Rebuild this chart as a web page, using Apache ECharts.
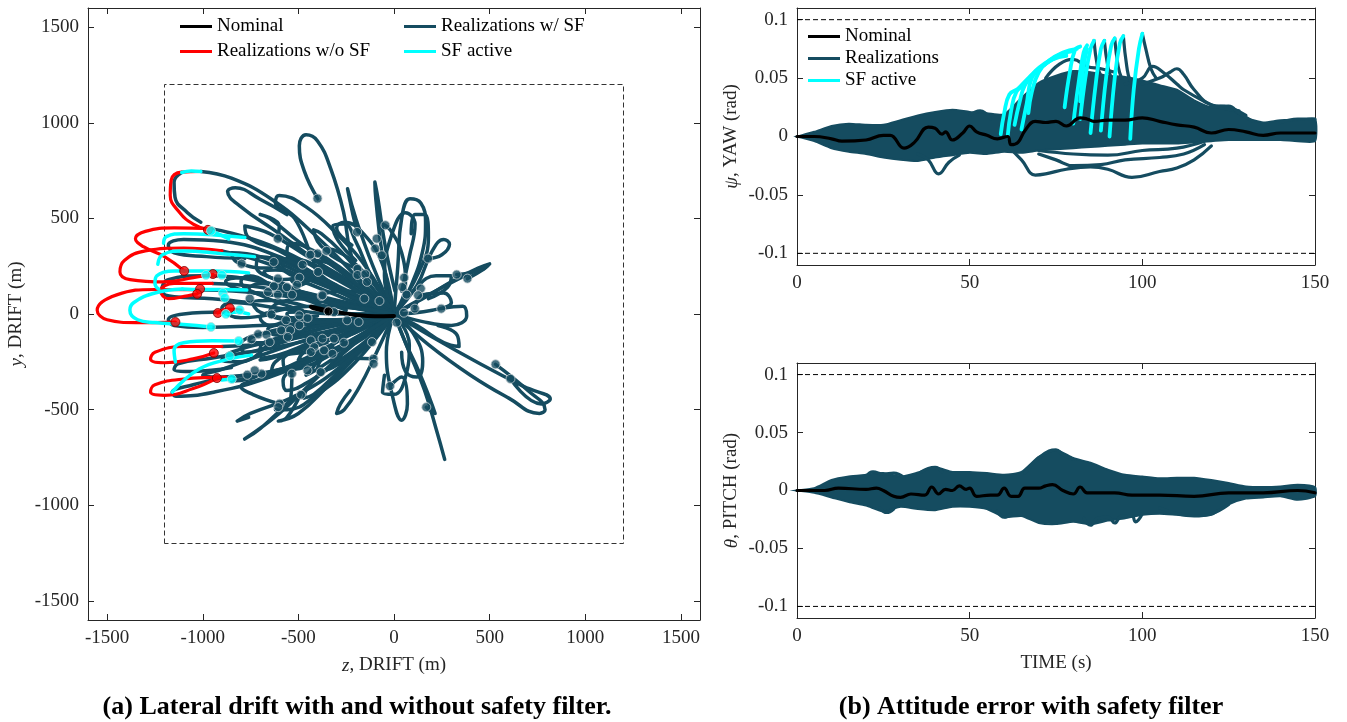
<!DOCTYPE html>
<html lang="en">
<head>
<meta charset="UTF-8">
<title>Lateral drift and attitude error</title>
<script src="https://cdn.jsdelivr.net/npm/echarts@6/dist/echarts.min.js"></script>
<style>
  html, body { margin: 0; background: #fff; }
  #chart { width: 1347px; height: 722px; }
</style>
</head>
<body>
<div id="chart"></div>
<script>
// ---- (a) lateral drift: trajectories [z, y] in metres ----
var nominalPath = [[0,-10],[-100,-12],[-200,-5],[-300,10],[-400,30],[-435,38],[-420,30],[-343,14]];
var nominalEnd = [[-343,14]];

// realizations with safety filter, central cluster
var centerPaths = [
  [[0,0],[-150,120],[-228,325],[-264,534],[-331,760],[-400,905],[-460,937],[-495,880],[-470,750],[-398,602]],
  [[0,0],[-60,300],[-95,600],[-100,690],[-85,610],[-45,350],[5,120]],
  [[0,0],[-110,250],[-200,500],[-243,655],[-232,600],[-205,480],[-186,429]],
  [[0,0],[20,250],[40,500],[83,602],[140,580],[165,480],[150,330],[90,150],[30,40]],
  [[0,0],[-50,200],[-10,420],[60,530],[110,470],[80,300],[40,120]],
  [[0,0],[120,150],[200,330],[260,390],[290,365],[250,310],[178,290]],
  [[0,0],[150,80],[320,180],[440,240],[500,262],[470,235],[384,185]],
  [[0,0],[180,100],[350,190],[490,255],[450,228],[328,206]],
  [[0,0],[150,-40],[300,-60],[380,-10],[360,40],[247,28]],
  [[0,0],[200,-120],[450,-260],[680,-380],[817,-445],[770,-470],[609,-339]],
  [[0,0],[180,-160],[400,-320],[600,-440],[760,-520],[790,-500],[700,-400],[531,-263]],
  [[0,0],[80,-200],[160,-400],[220,-600],[265,-760]],
  [[0,0],[60,-150],[130,-300],[190,-450],[215,-520],[190,-505],[169,-487]],
  [[0,0],[-40,-200],[-10,-420],[40,-555],[70,-470],[40,-330],[-21,-377]],
  [[0,0],[-200,-150],[-400,-330],[-600,-520],[-781,-654],[-700,-600],[-520,-430]],
  [[0,0],[-180,-200],[-350,-380],[-500,-520],[-605,-560],[-560,-540],[-490,-422]],
  [[0,0],[-250,-120],[-500,-250],[-700,-340],[-800,-380],[-740,-420],[-602,-469]],
  [[0,0],[-200,150],[-450,300],[-650,420],[-780,460],[-760,400],[-600,330],[-478,258]],
  [[0,0],[-250,100],[-500,220],[-700,300],[-850,320],[-820,270],[-650,240],[-629,272]],
  [[0,0],[-300,50],[-600,140],[-800,190],[-880,170],[-780,120],[-607,101]],
  [[0,0],[-250,200],[-500,380],[-650,500],[-700,520],[-600,460],[-607,394]],
  [[0,0],[-150,250],[-300,420],[-460,560],[-600,620],[-620,580],[-520,500],[-438,310]],
  [[0,0],[-300,0],[-600,30],[-850,60],[-900,30],[-800,-20],[-641,-2]],
  [[0,0],[-300,-60],[-600,-130],[-850,-200],[-900,-240],[-800,-250],[-650,-147]],
  [[0,0],[-250,-150],[-500,-260],[-750,-330],[-850,-350],[-760,-340],[-693,-312]],
  [[0,0],[-200,-250],[-400,-420],[-560,-500],[-620,-500],[-540,-440],[-534,-312]],
  [[0,0],[-350,-100],[-650,-200],[-900,-290],[-1000,-320],[-900,-330],[-767,-318]],
  [[0,0],[-100,80],[-250,120],[-380,100],[-400,60],[-300,40],[-155,80]],
  [[0,0],[-120,-60],[-260,-120],[-380,-140],[-420,-110],[-340,-100],[-262,-150]],
  [[0,0],[60,150],[40,320],[-20,440],[-60,470],[-45,464]],
  [[0,0],[100,-100],[150,-250],[120,-330],[60,-300],[40,-200]],
  [[0,0],[200,20],[300,60],[260,110],[150,100],[109,28]],
  [[0,0],[-200,-40],[-400,-60],[-520,-40],[-560,0],[-500,10],[-452,-21]],
  [[0,0],[-200,30],[-400,40],[-600,20],[-700,-20],[-650,-60],[-564,-33]],
  [[0,0],[-150,180],[-280,330],[-380,420],[-420,440],[-400,380],[-353,330]],
  [[0,0],[-180,-180],[-320,-330],[-420,-420],[-470,-440],[-460,-400],[-383,-304]],
  [[0,0],[-100,-220],[-180,-380],[-260,-500],[-300,-520],[-280,-470],[-230,-400]],
  [[0,0],[130,220],[180,400],[160,520],[110,520],[90,420]],
  [[0,0],[-250,60],[-500,120],[-700,160],[-760,130],[-660,100],[-533,101]],
  [[0,0],[-250,-30],[-500,-80],[-720,-110],[-760,-140],[-680,-150],[-555,-120]],
  [[0,0],[-200,90],[-450,180],[-620,230],[-680,220],[-600,180],[-495,190]],
  [[0,0],[-220,-90],[-450,-170],[-640,-230],[-700,-240],[-620,-220],[-435,-199]],
  [[0,0],[-150,40],[-330,110],[-480,170],[-540,180],[-500,150],[-397,220]],
  [[0,0],[-150,-100],[-300,-220],[-420,-300],[-460,-320],[-430,-290],[-366,-190]],
  [[0,0],[-100,150],[-200,260],[-300,330],[-350,340],[-320,300],[-191,236]],
  [[0,0],[-80,-100],[-180,-200],[-280,-260],[-330,-270],[-300,-230],[-107,-234]],
  [[0,0],[-150,60],[-350,160],[-550,260],[-700,300],[-720,250],[-600,170],[-400,80],[-250,20]],
  [[0,0],[-180,-30],[-380,-120],[-560,-200],[-690,-230],[-700,-180],[-560,-110],[-380,-60]],
  [[0,0],[-100,100],[-250,220],[-420,330],[-540,370],[-560,320],[-450,230],[-300,140]],
  [[0,0],[-120,-120],[-280,-240],[-440,-350],[-560,-400],[-580,-350],[-470,-260],[-320,-170]],
  [[0,0],[-200,0],[-420,60],[-620,140],[-760,200],[-800,170],[-680,90],[-480,20]],
  [[0,0],[-200,-20],[-420,-90],[-620,-160],[-780,-200],[-800,-160],[-680,-100],[-480,-60]],
  [[0,0],[-80,60],[-200,160],[-330,260],[-420,280],[-400,220],[-300,150]],
  [[0,0],[-60,-80],[-180,-180],[-320,-280],[-400,-300],[-380,-240],[-260,-170]],
  [[0,0],[-250,40],[-450,80],[-600,60],[-650,10],[-560,-20],[-400,-10]],
  [[0,0],[-120,200],[-200,380],[-260,470],[-320,460],[-290,380],[-200,280]],
  [[0,0],[80,-160],[60,-330],[0,-420],[-60,-410],[-50,-320]],
  [[0,0],[-220,140],[-420,260],[-560,290],[-580,240],[-460,180]],
  [[0,0],[-220,-140],[-420,-260],[-560,-290],[-580,-240],[-460,-180]],
  [[0,0],[100,120],[220,200],[300,200],[280,140],[180,80]],
  [[0,0],[120,-60],[260,-150],[340,-170],[330,-110],[230,-60]],
  [[0,0],[-60,260],[-160,420],[-260,480],[-300,450],[-220,360]],
  [[0,0],[-300,-30],[-520,-30],[-700,10],[-740,60],[-640,70],[-460,40]],
  [[0,0],[-160,-60],[-350,-180],[-520,-280],[-640,-300],[-620,-250],[-500,-180]],
  [[0,0],[-100,20],[-250,100],[-420,200],[-560,280],[-640,300],[-620,260],[-500,200]],
  [[0,0],[-120,-40],[-280,-40],[-460,-80],[-620,-110],[-660,-80],[-560,-50]],
  [[0,0],[-60,-40],[-150,-120],[-260,-180],[-420,-230],[-500,-240],[-470,-200],[-350,-150]]
];

// realizations with safety filter that reach the boundary
var edgePaths = [
  [[0,0],[-180,180],[-420,420],[-640,600],[-850,710],[-1010,745]],
  [[-1110,740],[-1150,690],[-1145,610],[-1080,530],[-1010,480]],
  [[0,0],[-300,200],[-600,420],[-800,560],[-870,640],[-830,660],[-700,600],[-560,520]],
  [[0,0],[-300,150],[-600,300],[-900,380],[-1100,390],[-1180,360],[-1150,320],[-980,300],[-780,290]],
  [[0,0],[-350,80],[-700,170],[-1000,200],[-1180,180],[-1215,120],[-1150,90],[-950,80],[-760,60]],
  [[0,0],[-350,-40],[-700,-60],[-1000,-70],[-1150,-60],[-1180,-30],[-1100,0],[-900,10]],
  [[0,0],[-300,-100],[-650,-180],[-950,-230],[-1130,-260],[-1150,-290],[-1050,-300],[-850,-280]],
  [[0,0],[-300,-180],[-650,-330],[-950,-410],[-1140,-430],[-1160,-410],[-1050,-370],[-880,-330]],
  [[0,0],[-250,-250],[-500,-420],[-750,-520],[-820,-560],[-760,-540]],
  [[0,0],[-300,180],[-650,360],[-950,445]],
  [[0,0],[-300,120],[-650,260],[-900,330]],
  [[0,0],[-350,70],[-700,140],[-950,160]],
  [[0,0],[-350,60],[-700,110],[-1000,126]],
  [[0,0],[-300,-80],[-650,-150],[-900,-170]],
  [[0,0],[-300,-180],[-600,-290],[-880,-330]]
];

// realizations without safety filter
var redPaths = [
  [[-1010,745],[-1110,742],[-1165,700],[-1170,620],[-1120,530],[-1050,470],[-973,440]],
  [[-950,445],[-1150,450],[-1300,432],[-1352,393],[-1310,352],[-1200,300],[-1097,225]],
  [[-900,330],[-1100,345],[-1300,330],[-1410,280],[-1433,220],[-1380,180],[-1200,168],[-1050,190],[-947,209]],
  [[-950,160],[-1150,160],[-1220,120],[-1180,80],[-1080,95],[-1029,105]],
  [[-1000,126],[-1250,128],[-1450,100],[-1552,20],[-1500,-30],[-1350,-45],[-1143,-42]],
  [[-900,-170],[-1100,-170],[-1250,-200],[-1273,-235],[-1200,-255],[-1050,-235],[-942,-204]],
  [[-880,-330],[-1100,-340],[-1250,-370],[-1273,-408],[-1200,-425],[-1050,-390],[-926,-335]],
  [[-800,20],[-870,25],[-921,5]]
];

// safety filter active segments
var cyanPaths = [
  [[-1010,745],[-1060,748],[-1110,740]],
  [[-864,393],[-910,415],[-957,435]],
  [[-780,400],[-950,415],[-1100,420],[-1190,405],[-1205,370]],
  [[-730,300],[-900,315],[-1100,330],[-1210,310],[-1235,260]],
  [[-760,215],[-950,225],[-1150,225],[-1240,200],[-1250,160],[-1230,130]],
  [[-770,125],[-900,128],[-1000,128],[-1107,131]],
  [[-1107,131],[-1250,110],[-1360,60],[-1381,20],[-1340,-30],[-1250,-45],[-1100,-55],[-957,-68]],
  [[-760,0],[-820,10],[-879,0]],
  [[-812,-141],[-950,-140],[-1100,-150],[-1150,-190],[-1143,-251]],
  [[-745,-215],[-864,-236],[-1019,-288],[-1159,-408]],
  [[-848,-340],[-900,-345]]
];

var endPoints = [[-607,394],[-629,272],[-797,263],[-478,258],[-435,311],[-400,316],[-353,330],[-397,220],[-607,185],[-495,190],[-507,153],[-628,145],[-560,140],[-533,101],[-607,101],[-659,115],[-754,80],[-378,94],[-155,80],[-76,68],[-314,10],[-495,-7],[-452,-21],[-564,-33],[-641,-2],[-495,-59],[-590,-85],[-543,-85],[-710,-106],[-667,-108],[-745,-132],[-650,-147],[-555,-120],[-435,-138],[-417,-173],[-374,-129],[-314,-129],[-262,-150],[-115,-147],[-366,-190],[-322,-208],[-435,-199],[-452,-295],[-383,-304],[-534,-312],[-693,-312],[-728,-295],[-767,-318],[-486,-422],[-598,-469],[-245,-33],[-185,-42],[-107,-234],[-107,-260],[14,-45],[-193,429],[-90,394],[-98,342],[-64,307],[-45,464],[-400,604],[178,290],[53,190],[140,133],[126,98],[66,101],[43,141],[109,28],[52,7],[247,28],[328,206],[384,185],[531,-263],[609,-339],[169,-487],[-21,-377],[-191,236],[-191,204],[-150,209],[-141,168],[-374,98],[-438,310],[-605,-487]];
var redEnds = [[-973,440],[-1097,225],[-947,209],[-1014,131],[-1029,105],[-921,5],[-859,31],[-1143,-42],[-942,-204],[-926,-335]];
var cyanEnds = [[-957,435],[-983,204],[-900,204],[-895,110],[-885,84],[-879,0],[-807,21],[-957,-68],[-812,-141],[-859,-220],[-848,-340]];

var driftTicks = [-1500,-1000,-500,0,500,1000,1500];
var driftLimit = 1200;

// ---- (b) attitude error: time (s) vs rad ----
var timeTicks = [0,50,100,150];
var attTicks = [-0.1,-0.05,0,0.05,0.1];
var attLimit = 0.1;

var bandT   = [0,5,10,15,20,25,30,35,40,45,50,55,60,65,70,75,80,85,90,95,100,105,110,115,120,125,130,135,140,145,150];
var yawHi   = [0,0.004,0.009,0.011,0.010,0.010,0.014,0.018,0.021,0.023,0.021,0.020,0.019,0.033,0.046,0.052,0.056,0.055,0.052,0.051,0.048,0.044,0.040,0.031,0.025,0.024,0.016,0.012,0.014,0.014,0.015];
var yawLo   = [0,-0.004,-0.010,-0.013,-0.015,-0.018,-0.020,-0.021,-0.018,-0.016,-0.014,-0.015,-0.013,-0.014,-0.012,-0.011,-0.010,-0.009,-0.008,-0.007,-0.006,-0.006,-0.006,-0.005,-0.004,-0.003,-0.003,-0.003,-0.003,-0.004,-0.004];
var pitchHi = [0,0.002,0.009,0.012,0.0135,0.015,0.012,0.0155,0.020,0.016,0.016,0.015,0.0135,0.016,0.029,0.035,0.028,0.024,0.018,0.0135,0.012,0.0105,0.011,0.011,0.009,0.0065,0.0035,0.003,0.0035,0.005,0.003];
var pitchLo = [0,-0.002,-0.006,-0.010,-0.013,-0.018,-0.014,-0.016,-0.017,-0.014,-0.014,-0.016,-0.023,-0.022,-0.028,-0.029,-0.027,-0.029,-0.026,-0.024,-0.021,-0.020,-0.021,-0.022,-0.021,-0.012,-0.007,-0.006,-0.005,-0.008,-0.005];

var yawNominal = [[0,0],[5,0],[10,-0.002],[13,-0.004],[20,-0.003],[25,0.001],[27,0.001],[31,-0.010],[34,-0.005],[38,0.008],[40,0.007],[42,0.002],[43,0.004],[45,-0.003],[48,0.003],[50,0.009],[52,0.004],[55,0.001],[58,-0.002],[61,0],[62,-0.007],[64,-0.005],[66,0.005],[69,0.013],[72,0.012],[75,0.013],[78,0.009],[82,0.016],[84,0.015],[86,0.013],[90,0.014],[95,0.014],[100,0.016],[105,0.013],[110,0.010],[115,0.008],[120,0.003],[125,0.006],[130,0.004],[135,0.001],[140,0.003],[145,0.003],[150,0.003]];
var pitchNominal = [[0,0],[8,0],[12,0.002],[20,0.001],[23,0.002],[25,0],[28,-0.005],[30,-0.006],[33,-0.003],[37,-0.004],[39,0.003],[41,-0.003],[43,0.001],[45,0],[47,0.004],[49,0.001],[50,0.002],[52,-0.005],[56,-0.004],[58,-0.004],[60,0.002],[62,-0.005],[64,-0.005],[66,0.002],[70,0.002],[72,0.004],[74,0.005],[77,0],[80,-0.003],[82,0.003],[84,-0.002],[88,-0.002],[92,-0.002],[97,-0.004],[105,-0.004],[115,-0.005],[125,-0.002],[135,-0.002],[145,0],[150,-0.002]];

var yawLines = [
  [[95,0.045],[100,0.05],[103,0.06],[106,0.055],[110,0.045],[112,0.04],[118,0.03],[122,0.025],[128,0.022]],
  [[100,0.045],[105,0.05],[108,0.055],[110,0.058],[112,0.053],[115,0.04],[120,0.027],[125,0.025],[130,0.018]],
  [[60,-0.005],[65,-0.02],[69,-0.033],[72,-0.032],[78,-0.028],[85,-0.026],[90,-0.028],[97,-0.035],[105,-0.03],[110,-0.027],[115,-0.02],[120,-0.008]],
  [[70,-0.015],[75,-0.02],[80,-0.025],[88,-0.024],[95,-0.02],[105,-0.018],[112,-0.015],[118,-0.007]],
  [[35,-0.015],[38,-0.02],[41,-0.032],[44,-0.022],[47,-0.016]],
  [[70,-0.012],[80,-0.015],[90,-0.016],[100,-0.012],[110,-0.01],[118,-0.004]],
  [[50,0.018],[53,0.022],[56,0.015]],
  [[72,0.05],[76,0.062],[80,0.066],[84,0.06],[88,0.058],[92,0.055]],
  [[94.5,0.086],[95.5,0.06],[96.5,0.048],[98,0.045]],
  [[100,0.088],[101,0.075],[102.5,0.058],[104,0.05]],
  [[92,0.084],[93,0.06],[94,0.05]],
  [[89,0.082],[90,0.06],[91,0.05]],
  [[86,0.082],[87,0.06],[88,0.052]],
  [[120,0.025],[125,0.026],[128,0.02],[132,0.013]],
  [[140,0.012],[145,0.015],[150,0.015]]
];
var yawActive = [
  [[59,0.002],[60,0.02],[61.5,0.036],[64,0.041],[67,0.05],[70,0.058],[74,0.066],[78,0.071]],
  [[61,0],[62,0.022],[63.5,0.038],[66,0.045],[69,0.055],[72,0.062],[76,0.07],[80,0.073]],
  [[63,0.01],[64.5,0.03],[66,0.044],[69,0.056],[72,0.063],[75,0.068]],
  [[65,0.006],[66.5,0.028],[68,0.05],[71,0.06],[74,0.066],[78,0.069]],
  [[67,0.02],[68,0.038],[70,0.055],[73,0.065],[77,0.072],[81,0.075]],
  [[77.5,0.025],[79,0.055],[80.5,0.074],[82,0.077]],
  [[80,0.011],[81.5,0.045],[83,0.072],[84,0.078]],
  [[82,0.015],[83.5,0.05],[85,0.075],[86,0.082]],
  [[85,0.003],[86.5,0.045],[88,0.075],[89,0.082]],
  [[88,0.005],[89.5,0.05],[91,0.078],[92,0.084]],
  [[90.5,0],[92,0.05],[93.5,0.08],[94.5,0.086]],
  [[96.5,-0.002],[97.5,0.04],[99,0.075],[100,0.088]],
  [[82,0.03],[83,0.06],[84,0.075]]
];
var pitchLines = [
  [[83,-0.024],[85,-0.03],[87,-0.024],[90,-0.023],[92,-0.028],[94,-0.022],[97,-0.022],[98,-0.027],[100,-0.02]],
  [[66,0.015],[70,0.028],[73,0.034],[75,0.035],[77,0.031],[80,0.027]],
  [[105,-0.015],[110,-0.02],[115,-0.022],[120,-0.02],[125,-0.012]],
  [[20,0.012],[22,0.016],[25,0.014],[28,0.015],[31,0.011]],
  [[36,0.016],[38,0.019],[40,0.02],[42,0.016]],
  [[24,-0.015],[26,-0.019],[28,-0.016]],
  [[58,-0.018],[60,-0.023],[62,-0.02]]
];

var TEAL = '#154c60';
var RED = '#ff0000';
var CYAN = '#00ffff';
var FONT = 'Liberation Serif';
var AXIS = '#262626';

function lines(paths, name, color, width, xi, yi, z) {
  return paths.map(function (p) {
    return {
      type: 'line', name: name, data: p, xAxisIndex: xi, yAxisIndex: yi,
      smooth: 0.45, symbol: 'none', silent: true, z: z,
      lineStyle: { color: color, width: width, cap: 'round', join: 'round' },
      itemStyle: { color: color }
    };
  });
}
function dots(pts, fill, border, size, z) {
  return {
    type: 'scatter', data: pts, xAxisIndex: 0, yAxisIndex: 0, symbolSize: size, silent: true, z: z,
    itemStyle: { color: fill, borderColor: border, borderWidth: 1 }
  };
}
function band(T, hi, lo, xi, yi) {
  return {
    type: 'custom', xAxisIndex: xi, yAxisIndex: yi, data: [[0, 0]], silent: true, z: 2,
    renderItem: function (params, api) {
      var pts = [];
      for (var i = 0; i < T.length; i++) pts.push(api.coord([T[i], hi[i]]));
      for (var j = T.length - 1; j >= 0; j--) pts.push(api.coord([T[j], lo[j]]));
      return { type: 'polygon', shape: { points: pts, smooth: 0.2 }, style: { fill: TEAL, stroke: TEAL, lineWidth: 2 } };
    }
  };
}
function hline(v, xi, yi) {
  return {
    type: 'line', data: [[0, v], [150, v]], xAxisIndex: xi, yAxisIndex: yi, symbol: 'none', silent: true, z: 1,
    lineStyle: { color: '#000', width: 1, type: [5, 3] }
  };
}
function axis(grid, pos, min, max, ticks, labels, name, gap) {
  return {
    type: 'value', gridIndex: grid, position: pos, min: min, max: max,
    splitLine: { show: false },
    axisLine: { show: true, onZero: false, lineStyle: { color: AXIS, width: 1 } },
    axisTick: { inside: true, length: 6, customValues: ticks, lineStyle: { color: AXIS } },
    axisLabel: { show: labels, customValues: ticks, margin: 9, color: AXIS, fontFamily: FONT, fontSize: 19,
      formatter: function (v) { return String(v); } },
    name: name || '', nameLocation: 'middle', nameGap: gap || 0,
    nameTextStyle: { color: AXIS, fontFamily: FONT, fontSize: 19, rich: { i: { fontStyle: 'italic', fontFamily: FONT, fontSize: 19, color: AXIS } } }
  };
}
function legend(names, left, top, orient) {
  return {
    data: names.map(function (n) { return { name: n, icon: 'rect' }; }),
    left: left, top: top, orient: orient || 'horizontal', itemWidth: 32, itemHeight: 3, itemGap: 3,
    selectedMode: false, padding: 0,
    textStyle: { fontFamily: FONT, fontSize: 19, color: '#000', padding: [0, 0, 0, 0] }
  };
}

var series = [];
series.push({
  type: 'line', data: [[-driftLimit,-driftLimit],[-driftLimit,driftLimit],[driftLimit,driftLimit],[driftLimit,-driftLimit],[-driftLimit,-driftLimit]],
  xAxisIndex: 0, yAxisIndex: 0, symbol: 'none', silent: true, z: 1,
  lineStyle: { color: '#333', width: 1, type: [5, 3] }
});
series = series.concat(lines(centerPaths, 'Realizations w/ SF', TEAL, 3.5, 0, 0, 3));
series = series.concat(lines(edgePaths, 'Realizations w/ SF', TEAL, 3.5, 0, 0, 3));
series = series.concat(lines(redPaths, 'Realizations w/o SF', RED, 3.2, 0, 0, 4));
series = series.concat(lines(cyanPaths, 'SF active', CYAN, 3.5, 0, 0, 5));
series = series.concat(lines([nominalPath], 'Nominal', '#000', 4, 0, 0, 6));
series.push(dots(endPoints, TEAL, '#c3cdd1', 9, 7));
series.push(dots(redEnds, RED, '#7a0000', 9, 7));
series.push(dots(cyanEnds, CYAN, '#b7dede', 9, 7));
series.push(dots(nominalEnd, '#000', '#c3cdd1', 9, 8));

series.push(hline(attLimit, 2, 2), hline(-attLimit, 2, 2));
series.push(band(bandT, yawHi, yawLo, 2, 2));
series = series.concat(lines(yawLines, 'Realizations', TEAL, 3.2, 2, 2, 3));
series = series.concat(lines(yawActive, 'SF active', CYAN, 3.8, 2, 2, 5));
series = series.concat(lines([yawNominal], 'Nominal', '#000', 3.2, 2, 2, 6));

series.push(hline(attLimit, 4, 4), hline(-attLimit, 4, 4));
series.push(band(bandT, pitchHi, pitchLo, 4, 4));
series = series.concat(lines(pitchLines, 'Realizations', TEAL, 3.2, 4, 4, 3));
series = series.concat(lines([pitchNominal], 'Nominal', '#000', 3.2, 4, 4, 6));

var chart = echarts.init(document.getElementById('chart'), null, { renderer: 'canvas' });
chart.setOption({
  animation: false,
  backgroundColor: '#fff',
  title: [
    { text: '(a) Lateral drift with and without safety filter.', left: 352, top: 689, textAlign: 'center',
      textStyle: { fontFamily: FONT, fontWeight: 'bold', fontSize: 26, color: '#000' } },
    { text: '(b) Attitude error with safety filter', left: 1026, top: 689, textAlign: 'center',
      textStyle: { fontFamily: FONT, fontWeight: 'bold', fontSize: 26, color: '#000' } }
  ],
  legend: [
    legend(['Nominal'], 180, 17),
    legend(['Realizations w/ SF'], 404, 17),
    legend(['Realizations w/o SF'], 180, 42),
    legend(['SF active'], 404, 42),
    legend(['Nominal', 'Realizations', 'SF active'], 808, 27, 'vertical')
  ],
  grid: [
    { left: 88, top: 8, width: 612, height: 612 },
    { left: 797, top: 8, width: 518, height: 257 },
    { left: 797, top: 363, width: 518, height: 255 }
  ],
  xAxis: [
    axis(0, 'bottom', -1600, 1600, driftTicks, true, '{i|z}, DRIFT (m)', 36),
    axis(0, 'top', -1600, 1600, driftTicks, false),
    axis(1, 'bottom', 0, 150, timeTicks, true),
    axis(1, 'top', 0, 150, timeTicks, false),
    axis(2, 'bottom', 0, 150, timeTicks, true, 'TIME (s)', 36),
    axis(2, 'top', 0, 150, timeTicks, false)
  ],
  yAxis: [
    axis(0, 'left', -1600, 1600, driftTicks, true, '{i|y}, DRIFT (m)', 62),
    axis(0, 'right', -1600, 1600, driftTicks, false),
    axis(1, 'left', -0.11, 0.11, attTicks, true, '{i|ψ}, YAW (rad)', 56),
    axis(1, 'right', -0.11, 0.11, attTicks, false),
    axis(2, 'left', -0.11, 0.11, attTicks, true, '{i|θ}, PITCH (rad)', 56),
    axis(2, 'right', -0.11, 0.11, attTicks, false)
  ],
  series: series
});
</script>
</body>
</html>
